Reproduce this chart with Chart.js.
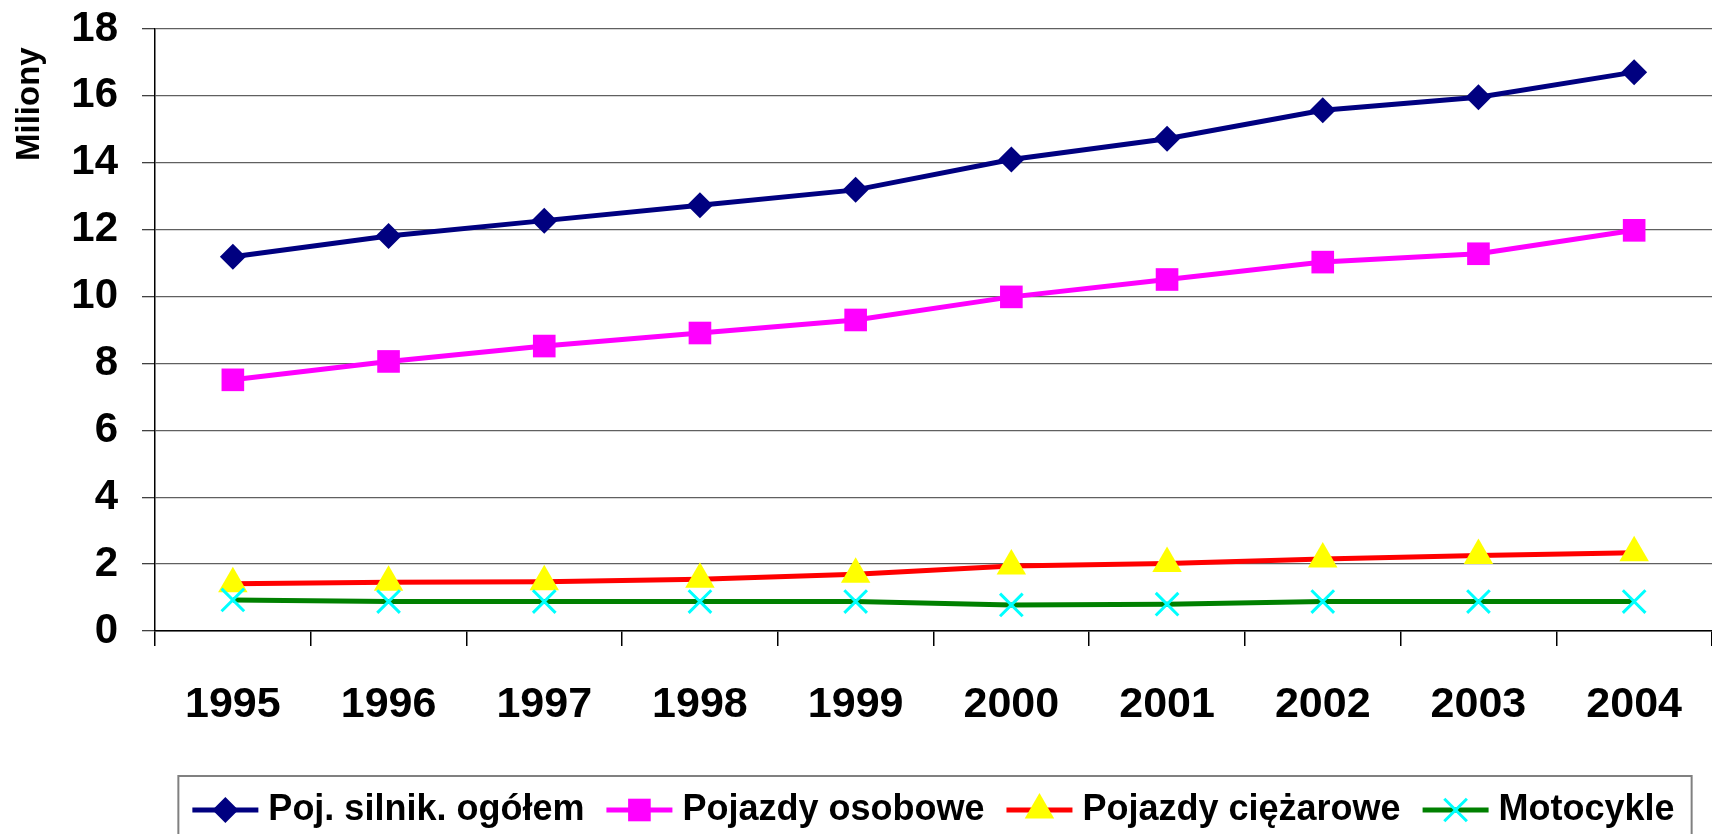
<!DOCTYPE html>
<html>
<head>
<meta charset="utf-8">
<script src="https://cdn.jsdelivr.net/npm/chart.js@4.4.1/dist/chart.umd.min.js"></script>
<style>
html,body{margin:0;padding:0;background:#fff;overflow:hidden}
#wrap{width:1712px;height:834px;position:relative}
canvas{display:block}
</style>
</head>
<body>
<div id="wrap"><canvas id="c" width="1712" height="834"></canvas></div>
<script>
// ---- data ----
const years = ['1995','1996','1997','1998','1999','2000','2001','2002','2003','2004'];
const seriesNames = ['Poj. silnik. ogółem','Pojazdy osobowe','Pojazdy ciężarowe','Motocykle'];
const ogolem    = [11.19, 11.81, 12.27, 12.73, 13.19, 14.10, 14.72, 15.57, 15.96, 16.71];
const osobowe   = [7.51, 8.06, 8.52, 8.91, 9.30, 9.99, 10.51, 11.03, 11.28, 11.98];
const ciezarowe = [1.41, 1.46, 1.47, 1.55, 1.70, 1.94, 2.02, 2.15, 2.26, 2.34];
const motocykle = [0.93, 0.88, 0.88, 0.88, 0.88, 0.78, 0.80, 0.88, 0.88, 0.88];
const yMin = 0, yMax = 18, yStep = 2;
const yTitle = 'Miliony';

const FONT = "'Liberation Sans', Arial, Helvetica, sans-serif";
const LEG_LINE = 66;
const LEG_FONT = 36;

const legendDecor = {
  id: 'legendDecor',
  afterDraw(chart) {
    const lg = chart.legend;
    const hb = lg.legendHitBoxes;
    if (!hb || !hb.length) return;
    const ctx = chart.ctx;
    const boxW = lg.options.labels.boxWidth;
    ctx.save();
    const first = hb[0], last = hb[hb.length - 1];
    const cy = first.top + first.height / 2;
    const lineStart = (h) => h.left + boxW + 8 - LEG_LINE;
    ctx.font = 'bold ' + LEG_FONT + 'px ' + FONT;
    const lastText = chart.data.datasets[hb.length - 1].label;
    const textEnd = last.left + boxW + LEG_FONT / 2 + ctx.measureText(lastText).width;
    ctx.strokeStyle = '#808080';
    ctx.lineWidth = 2;
    const L = lineStart(first) - 14, R = textEnd + 17;
    ctx.strokeRect(L, cy - 34, R - L, 120);
    hb.forEach((h, i) => {
      const ds = chart.data.datasets[i];
      const x0 = lineStart(h);
      const ymid = h.top + h.height / 2;
      ctx.strokeStyle = ds.borderColor;
      ctx.lineWidth = ds.borderWidth;
      ctx.lineCap = 'butt';
      ctx.beginPath();
      ctx.moveTo(x0, ymid);
      ctx.lineTo(x0 + LEG_LINE, ymid);
      ctx.stroke();
      ctx.fillStyle = ds.pointBackgroundColor;
      ctx.strokeStyle = ds.pointBorderColor;
      ctx.lineWidth = ds.pointBorderWidth;
      Chart.helpers.drawPoint(ctx, {
        pointStyle: ds.pointStyle, radius: ds.pointRadius,
        borderWidth: ds.pointBorderWidth, rotation: 0
      }, x0 + LEG_LINE / 2, ymid);
    });
    ctx.restore();
  }
};

const lineColors = ['#000080', '#FF00FF', '#FF0000', '#008000'];

new Chart(document.getElementById('c'), {
  type: 'line',
  data: {
    labels: years,
    datasets: [
      { label: seriesNames[0], data: ogolem, borderColor: lineColors[0], borderWidth: 5,
        pointStyle: 'rectRot', pointRadius: 13, pointBackgroundColor: '#000080', pointBorderColor: '#000080', pointBorderWidth: 0, order: 3 },
      { label: seriesNames[1], data: osobowe, borderColor: lineColors[1], borderWidth: 5,
        pointStyle: 'rect', pointRadius: 16, pointBackgroundColor: '#FF00FF', pointBorderColor: '#FF00FF', pointBorderWidth: 0, order: 2 },
      { label: seriesNames[2], data: ciezarowe, borderColor: lineColors[2], borderWidth: 5,
        pointStyle: 'triangle', pointRadius: 17, pointBackgroundColor: '#FFFF00', pointBorderColor: '#FFFF00', pointBorderWidth: 0, order: 1 },
      { label: seriesNames[3], data: motocykle, borderColor: lineColors[3], borderWidth: 5,
        pointStyle: 'crossRot', pointRadius: 16, pointBackgroundColor: '#00FFFF', pointBorderColor: '#00FFFF', pointBorderWidth: 3, order: 0 }
    ]
  },
  options: {
    responsive: false,
    animation: false,
    events: [],
    devicePixelRatio: 1,
    layout: { autoPadding: false, padding: { top: 29, left: 0, right: 0, bottom: -4 } },
    elements: { line: { tension: 0, fill: false } },
    scales: {
      x: {
        type: 'category',
        offset: true,
        border: { display: true, color: '#000', width: 1.5 },
        grid: { display: true, offset: true, drawOnChartArea: false, drawTicks: true, tickLength: 15, color: '#000', lineWidth: 1.5 },
        ticks: { color: '#000', font: { family: FONT, size: 43, weight: 'bold' }, padding: 33, maxRotation: 0, autoSkip: false },
        afterFit(s) { s.height = 139; s.paddingLeft = 0; s.paddingRight = 0; }
      },
      y: {
        min: yMin, max: yMax,
        border: { display: true, color: '#000', width: 1.5 },
        grid: { color: '#606060', lineWidth: 1.3, tickLength: 13, tickColor: '#404040' },
        ticks: { stepSize: yStep, color: '#000', font: { family: FONT, size: 42, weight: 'bold' }, padding: 24 },
        title: { display: true, text: yTitle + '  ', align: 'end', color: '#000',
                 font: { family: FONT, size: 33, weight: 'bold' }, padding: { top: 10, bottom: 0 } },
        afterFit(s) { s.width = 155; s.paddingTop = 0; s.paddingBottom = 0; }
      }
    },
    plugins: {
      tooltip: { enabled: false },
      title: { display: false },
      legend: {
        display: true,
        position: 'bottom',
        fullSize: false,
        labels: {
          color: '#000',
          font: { family: FONT, size: LEG_FONT, weight: 'bold' },
          boxWidth: 58,
          boxHeight: 5,
          padding: 22,
          generateLabels(chart) {
            return chart.data.datasets.map((ds, i) => ({
              text: ds.label, fillStyle: 'rgba(0,0,0,0)', strokeStyle: 'rgba(0,0,0,0)',
              lineWidth: 0, hidden: false, datasetIndex: i, fontColor: '#000'
            }));
          }
        }
      }
    }
  },
  plugins: [legendDecor]
});
</script>
</body>
</html>
